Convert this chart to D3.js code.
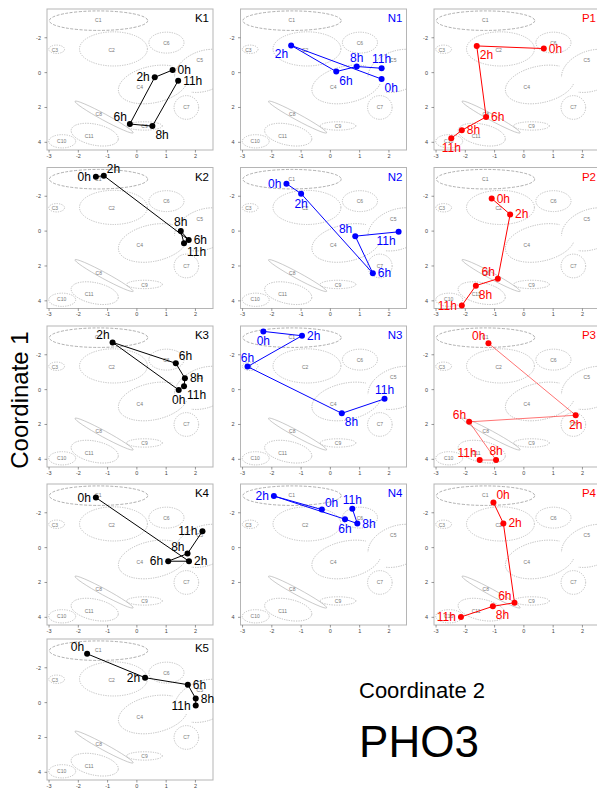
<!DOCTYPE html>
<html>
<head>
<meta charset="utf-8">
<script src="https://cdn.jsdelivr.net/npm/d3@7"></script>
<style>
  body { margin: 0; background: #fff; }
  svg { font-family: "Liberation Sans", Arial, sans-serif; }
</style>
</head>
<body>
<svg width="597" height="789"></svg>
<script>
const hours = ["0h", "2h", "6h", "8h", "11h"];
const panels = ["K1", "K2", "K3", "K4", "K5", "N1", "N2", "N3", "N4", "P1", "P2", "P3", "P4"];

// Coordinate 2 (horizontal), one value per hour
const coord2 = {
  K1: [1.22, 0.61, -0.24, 0.53, 1.41],
  K2: [-1.40, -1.13, 1.77, 1.50, 1.61],
  K3: [1.43, -0.83, 1.33, 1.64, 1.61],
  K4: [-1.40, 1.78, 1.07, 1.73, 2.24],
  K5: [-1.70, 0.28, 1.74, 2.01, 2.01],
  N1: [1.75, -1.34, 0.20, 0.90, 1.75],
  N2: [-1.50, -1.00, 1.45, 0.85, 2.33],
  N3: [-2.29, -0.97, -2.83, 0.39, 1.85],
  N4: [-0.29, -1.93, 0.50, 0.92, 0.75],
  P1: [0.68, -1.61, -1.29, -2.12, -2.48],
  P2: [-1.10, -0.47, -0.89, -1.64, -2.12],
  P3: [-1.21, 1.77, -1.87, -0.95, -1.51],
  P4: [-1.04, -0.70, -0.32, -1.06, -2.15]
};
// Coordinate 1 (vertical, increasing downwards)
const coord1 = {
  K1: [-0.15, 0.27, 2.95, 3.07, 0.46],
  K2: [-3.12, -3.18, 0.51, 0.00, 0.70],
  K3: [0.02, -2.71, -1.51, -0.65, -0.19],
  K4: [-2.87, 0.78, 0.78, 0.34, -0.94],
  K5: [-2.80, -1.43, -1.03, -0.23, 0.17],
  N1: [0.37, -1.56, -0.06, -0.35, -0.25],
  N2: [-2.72, -2.15, 2.42, 0.29, 0.04],
  N3: [-3.34, -3.09, -1.32, 1.36, 0.53],
  N4: [-2.18, -2.96, -1.63, -1.38, -2.23],
  P1: [-1.38, -1.53, 2.54, 3.31, 3.77],
  P2: [-1.87, -0.96, 2.73, 3.13, 4.27],
  P3: [-2.66, 1.47, 1.85, 4.04, 4.04],
  P4: [-2.59, -1.39, 3.16, 3.37, 3.98]
};

// Reference clusters (ellipses in data units)
const clusterNames = ["C1", "C2", "C3", "C4", "C5", "C6", "C7", "C8", "C9", "C10", "C11"];
const clusterCx = [-1.31, -0.80, -2.74, 0.55, 2.30, 1.01, 1.69, -1.12, 0.26, -2.55, -1.44];
const clusterCy = [-2.98, -1.36, -1.34, 0.68, -0.10, -1.72, 2.00, 2.55, 3.06, 3.94, 3.56];
const clusterRx = [1.68, 1.16, 0.27, 1.20, 1.05, 0.60, 0.42, 1.13, 0.61, 0.46, 0.82];
const clusterRy = [0.56, 0.98, 0.24, 1.05, 1.15, 0.60, 0.68, 0.18, 0.24, 0.38, 0.60];
const clusterTilt = [0, 0, 0, -12, -20, 0, 0, 28.5, 0, 0, 12];
const clusterLabelX = [-1.32, -0.86, -2.80, 0.10, 2.15, 1.01, 1.69, -1.30, 0.26, -2.57, -1.63];
const clusterLabelY = [-3.00, -1.30, -1.30, 0.80, -0.70, -1.71, 2.00, 2.40, 3.08, 3.92, 3.62];

const xTicks = [-3, -2, -1, 0, 1, 2];
const yTicks = [-2, 0, 2, 4];

// label placement around each point (layout only)
const labelSide = {
  K1: ["r", "l", "tl", "br", "r"],
  K2: ["l", "tr", "r", "t", "br"],
  K3: ["b", "tl", "tr", "r", "br"],
  K4: ["l", "r", "l", "tl", "l"],
  K5: ["tl", "l", "r", "r", "l"],
  N1: ["br", "bl", "br", "t", "t"],
  N2: ["l", "b", "r", "tl", "bl"],
  N3: ["b", "r", "t", "br", "t"],
  N4: ["tr", "l", "b", "r", "t"],
  P1: ["r", "br", "r", "r", "b"],
  P2: ["r", "r", "tl", "br", "l"],
  P3: ["tl", "b", "tl", "t", "tl"],
  P4: ["tr", "r", "tl", "br", "l"]
};

const groupColor = { K: "#000000", N: "#0000ff", P: "#ff0000" };
const colX = { K: 47, N: 240.5, P: 434 };
const rowY = [9, 167.5, 326, 484, 639];
const pw = 166, ph = 141;

const svg = d3.select("svg");

const x = d3.scaleLinear().domain([-3.07, 2.6]).range([0, pw]);
const y = d3.scaleLinear().domain([-3.65, 4.44]).range([0, ph]);
const kx = x(1) - x(0), ky = y(1) - y(0);

const clusters = clusterNames.map((name, i) => ({
  name: name,
  cx: x(clusterCx[i]), cy: y(clusterCy[i]),
  rx: clusterRx[i] * kx, ry: clusterRy[i] * ky,
  tilt: clusterTilt[i],
  lx: x(clusterLabelX[i]), ly: y(clusterLabelY[i])
}));

// masks so C4 and C5 outline merge into one shape
const defs = svg.append("defs");
[["hideC5", 4], ["hideC4", 3]].forEach(([id, idx]) => {
  const c = clusters[idx];
  const m = defs.append("mask").attr("id", id).attr("maskUnits", "userSpaceOnUse")
    .attr("x", -10).attr("y", -10).attr("width", pw + 20).attr("height", ph + 20);
  m.append("rect").attr("x", -10).attr("y", -10).attr("width", pw + 20).attr("height", ph + 20).attr("fill", "#fff");
  m.append("ellipse").attr("cx", c.cx).attr("cy", c.cy).attr("rx", c.rx).attr("ry", c.ry)
    .attr("transform", `rotate(${c.tilt},${c.cx},${c.cy})`).attr("fill", "#000");
});
defs.append("clipPath").attr("id", "panelClip")
  .append("rect").attr("width", pw).attr("height", ph);

const offsets = {
  r: [5, 4, "start"], l: [-5, 4, "end"], t: [0, -5, "middle"], b: [0, 14, "middle"],
  tr: [3, -3, "start"], tl: [-3, -3, "end"], br: [3, 13, "start"], bl: [-3, 13, "end"]
};

panels.forEach((name) => {
  const grp = name[0];
  const row = +name.slice(1) - 1;
  const color = groupColor[grp];
  const g = svg.append("g").attr("transform", `translate(${colX[grp]},${rowY[row]})`);

  g.append("rect").attr("width", pw).attr("height", ph)
    .attr("fill", "none").attr("stroke", "#b5b5b5").attr("stroke-width", 1);

  // axes
  g.append("g").selectAll("line").data(xTicks).join("line")
    .attr("x1", (d) => x(d)).attr("x2", (d) => x(d))
    .attr("y1", ph).attr("y2", ph + 2.5).attr("stroke", "#555").attr("stroke-width", 0.6);
  g.append("g").selectAll("text").data(xTicks).join("text")
    .attr("x", (d) => x(d)).attr("y", ph + 7.5).attr("text-anchor", "middle")
    .attr("font-size", 5.5).attr("fill", "#444").text((d) => d);
  g.append("g").selectAll("line").data(yTicks).join("line")
    .attr("x1", -2.5).attr("x2", 0).attr("y1", (d) => y(d)).attr("y2", (d) => y(d))
    .attr("stroke", "#555").attr("stroke-width", 0.6);
  g.append("g").selectAll("text").data(yTicks).join("text")
    .attr("x", -6).attr("y", (d) => y(d) + 2).attr("text-anchor", "end")
    .attr("font-size", 5.5).attr("fill", "#444").text((d) => d);

  // clusters
  const cg = g.append("g").attr("clip-path", "url(#panelClip)");
  cg.selectAll("ellipse").data(clusters).join("ellipse")
    .attr("cx", (d) => d.cx).attr("cy", (d) => d.cy)
    .attr("rx", (d) => d.rx).attr("ry", (d) => d.ry)
    .attr("transform", (d) => `rotate(${d.tilt},${d.cx},${d.cy})`)
    .attr("fill", "none")
    .attr("stroke", (d) => (d.name === "C1" ? "#9a9a9a" : "#b0b0b0"))
    .attr("stroke-width", (d) => (d.name === "C8" ? 0.6 : 0.8))
    .attr("stroke-dasharray", (d) => (d.name === "C1" ? "3,1.5" : d.name === "C8" ? null : "1.2,1.2"))
    .attr("mask", (d) => (d.name === "C4" ? "url(#hideC5)" : d.name === "C5" ? "url(#hideC4)" : null));
  cg.selectAll("text").data(clusters).join("text")
    .attr("x", (d) => d.lx).attr("y", (d) => d.ly + 2)
    .attr("text-anchor", "middle").attr("font-size", 5).attr("fill", "#777")
    .text((d) => d.name);

  // trajectory
  const pts = hours.map((h, i) => ({ h: h, x: coord2[name][i], y: coord1[name][i], side: labelSide[name][i] }));
  const line = d3.line().x((d) => x(d.x)).y((d) => y(d.y));
  g.append("path").datum(pts).attr("d", line)
    .attr("fill", "none").attr("stroke", color)
    .attr("stroke-opacity", name === "P3" ? 0.55 : 1)
    .attr("stroke-width", 1);
  g.selectAll("circle").data(pts).join("circle")
    .attr("cx", (d) => x(d.x)).attr("cy", (d) => y(d.y)).attr("r", 3)
    .attr("fill", color);
  g.selectAll("text.lab").data(pts).join("text").attr("class", "lab")
    .attr("x", (d) => x(d.x) + offsets[d.side][0])
    .attr("y", (d) => y(d.y) + offsets[d.side][1])
    .attr("text-anchor", (d) => offsets[d.side][2])
    .attr("font-size", 12).attr("fill", color)
    .text((d) => d.h);

  g.append("text").attr("x", pw - 4).attr("y", 13).attr("text-anchor", "end")
    .attr("font-size", 11.5).attr("fill", color).text(name);
});

svg.append("text").attr("transform", "translate(28,400) rotate(-90)")
  .attr("text-anchor", "middle").attr("font-size", 24).text("Coordinate 1");
svg.append("text").attr("x", 422).attr("y", 698)
  .attr("text-anchor", "middle").attr("font-size", 22).text("Coordinate 2");
svg.append("text").attr("x", 419).attr("y", 757)
  .attr("text-anchor", "middle").attr("font-size", 44).text("PHO3");
</script>
</body>
</html>
